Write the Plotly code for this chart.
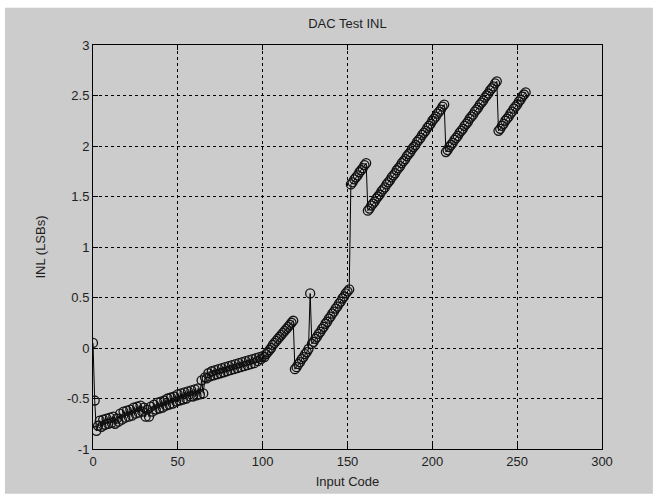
import plotly.graph_objects as go

# Measured integral non-linearity (in LSBs) for each DAC input code 0..255
codes = list(range(256))

inl_0_63 = [
    0.05, -0.52, -0.82, -0.77, -0.72, -0.78, -0.71, -0.76, -0.70, -0.75,
    -0.69, -0.74, -0.68, -0.75, -0.70, -0.73, -0.65, -0.71, -0.63, -0.69,
    -0.62, -0.68, -0.61, -0.67, -0.59, -0.65, -0.58, -0.64, -0.57, -0.63,
    -0.59, -0.68, -0.61, -0.68, -0.58, -0.63, -0.56, -0.61, -0.54, -0.60,
    -0.53, -0.59, -0.52, -0.57, -0.50, -0.56, -0.49, -0.55, -0.48, -0.53,
    -0.46, -0.52, -0.45, -0.51, -0.44, -0.50, -0.43, -0.48, -0.42, -0.48,
    -0.41, -0.47, -0.40, -0.46,
]
inl_64_118 = [
    -0.32, -0.45, -0.29, -0.30, -0.25, -0.28, -0.23, -0.27, -0.22, -0.26,
    -0.21, -0.25, -0.20, -0.24, -0.19, -0.23, -0.18, -0.22, -0.17, -0.21,
    -0.16, -0.20, -0.15, -0.19, -0.14, -0.18, -0.13, -0.17, -0.12, -0.16,
    -0.11, -0.15, -0.10, -0.13, -0.09, -0.11, -0.08, -0.09, -0.06, -0.04,
    -0.02, 0.00, 0.03, 0.05, 0.07, 0.09, 0.11, 0.13, 0.15, 0.17,
    0.19, 0.21, 0.23, 0.25, 0.27,
]
inl_119_151 = [
    -0.21, -0.19, -0.16, -0.14, -0.11, -0.09, -0.06, -0.04, -0.01, 0.54,
    0.04, 0.06, 0.09, 0.11, 0.14, 0.16, 0.19, 0.21, 0.24, 0.26,
    0.29, 0.31, 0.34, 0.36, 0.39, 0.41, 0.44, 0.46, 0.49, 0.51,
    0.54, 0.56, 0.58,
]
inl_152_161 = [1.62, 1.64, 1.67, 1.69, 1.71, 1.74, 1.76, 1.78, 1.81, 1.83]
inl_162_207 = [
    1.36, 1.38, 1.41, 1.43, 1.45, 1.48, 1.50, 1.52, 1.55, 1.57,
    1.59, 1.62, 1.64, 1.66, 1.69, 1.71, 1.73, 1.76, 1.78, 1.80,
    1.83, 1.85, 1.87, 1.90, 1.92, 1.94, 1.97, 1.99, 2.01, 2.04,
    2.06, 2.08, 2.11, 2.13, 2.15, 2.18, 2.20, 2.22, 2.25, 2.27,
    2.29, 2.32, 2.34, 2.36, 2.39, 2.41,
]
inl_208_238 = [
    1.94, 1.96, 1.99, 2.01, 2.03, 2.06, 2.08, 2.10, 2.13, 2.15,
    2.17, 2.20, 2.22, 2.24, 2.27, 2.29, 2.31, 2.34, 2.36, 2.38,
    2.41, 2.43, 2.45, 2.48, 2.50, 2.52, 2.55, 2.57, 2.59, 2.62,
    2.64,
]
inl_239_255 = [
    2.15, 2.17, 2.20, 2.22, 2.25, 2.27, 2.29, 2.32, 2.34, 2.37,
    2.39, 2.41, 2.44, 2.46, 2.49, 2.51, 2.53,
]

inl = (inl_0_63 + inl_64_118 + inl_119_151 + inl_152_161
       + inl_162_207 + inl_208_238 + inl_239_255)

x_ticks = [0, 50, 100, 150, 200, 250, 300]
y_ticks = [-1, -0.5, 0, 0.5, 1, 1.5, 2, 2.5, 3]
y_tick_text = ["-1", "-0.5", "0", "0.5", "1", "1.5", "2", "2.5", "3"]

FONT = "Liberation Sans, Arial, sans-serif"
TEXT_COLOR = "#1e1e1e"

fig = go.Figure()
fig.add_trace(go.Scatter(
    x=codes, y=inl,
    mode="lines+markers",
    line=dict(color="black", width=1),
    marker=dict(symbol="circle-open", size=9, color="#111111",
                line=dict(color="#111111", width=1.3)),
    showlegend=False,
))

# Grey figure panel behind the white axes area
fig.add_shape(type="rect", xref="paper", yref="paper",
              x0=-0.173, x1=1.100, y0=-0.111, y1=1.092,
              fillcolor="#cccccc", line=dict(width=0), layer="below")

axis_common = dict(
    showline=True, linecolor="black", linewidth=1, mirror="ticks",
    ticks="inside", ticklen=5, tickcolor="black",
    showgrid=True, gridcolor="black", gridwidth=1, griddash="3px,3px",
    zeroline=False,
    tickfont=dict(family=FONT, size=13, color=TEXT_COLOR),
)

fig.update_xaxes(range=[0, 300], tickvals=x_ticks,
                 title=dict(text="Input Code", standoff=9,
                            font=dict(family=FONT, size=13, color=TEXT_COLOR)),
                 **axis_common)
fig.update_yaxes(range=[-1, 3], tickvals=y_ticks, ticktext=y_tick_text,
                 title=dict(text="INL (LSBs)", standoff=18,
                            font=dict(family=FONT, size=13, color=TEXT_COLOR)),
                 **axis_common)

fig.update_layout(
    width=658, height=499,
    margin=dict(l=93, r=56, t=45, b=50),
    paper_bgcolor="white", plot_bgcolor="white",
    title=dict(text="DAC Test INL", x=0.5, xanchor="center",
               xref="paper", y=1, yref="paper", yanchor="bottom",
               pad=dict(b=17),
               font=dict(family=FONT, size=13, color=TEXT_COLOR)),
)

fig.write_html("out.html")
